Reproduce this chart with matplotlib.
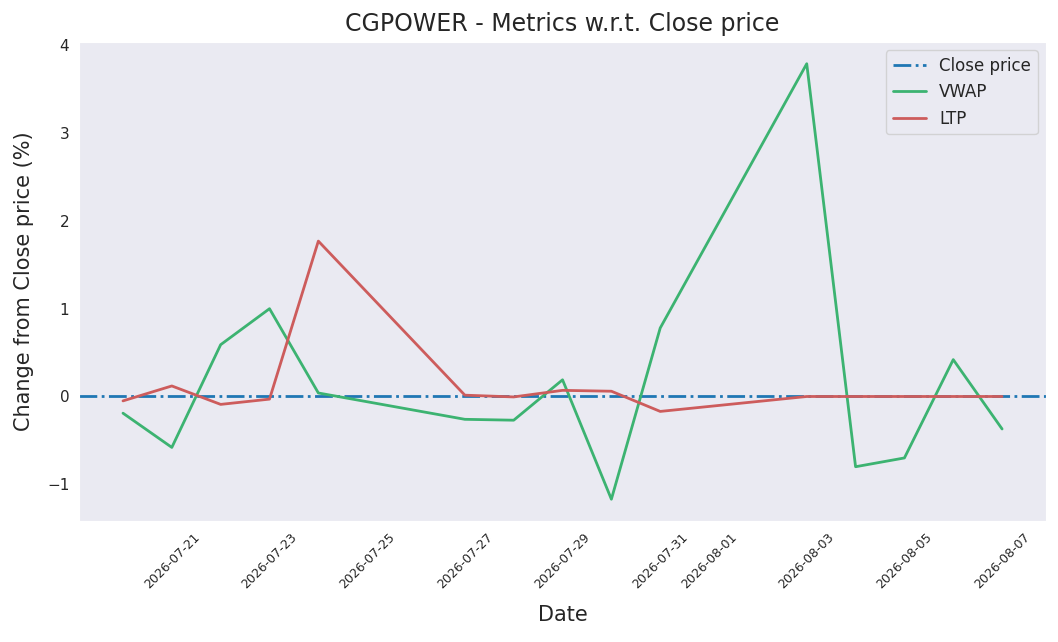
import numpy as np
import pandas as pd
import matplotlib
matplotlib.use("Agg")
import matplotlib.pyplot as plt
import seaborn as sns

dates = pd.to_datetime([
    "2026-07-20", "2026-07-21", "2026-07-22", "2026-07-23", "2026-07-24",
    "2026-07-27", "2026-07-28", "2026-07-29", "2026-07-30", "2026-07-31",
    "2026-08-03", "2026-08-04", "2026-08-05", "2026-08-06", "2026-08-07",
])
vwap = [-0.19, -0.58, 0.59, 1.00, 0.04,
        -0.26, -0.27, 0.19, -1.17, 0.78,
        3.79, -0.80, -0.70, 0.42, -0.37]
ltp = [-0.05, 0.12, -0.09, -0.03, 1.77,
       0.015, -0.005, 0.07, 0.06, -0.17,
       0.0, 0.0, 0.0, 0.0, 0.0]

sns.set_style("dark")
plt.rcParams["font.family"] = ["DejaVu Sans"]

fig, ax = plt.subplots(figsize=(10.58, 6.42), dpi=100)
fig.subplots_adjust(left=0.0747, right=0.9887, top=0.9346, bottom=0.1885)

ax.axhline(0, color="#1f77b4", linestyle="-.", linewidth=2, label="Close price")
ax.plot(dates, vwap, color="mediumseagreen", linewidth=2, label="VWAP")
ax.plot(dates, ltp, color="indianred", linewidth=2, label="LTP")

ax.set_title("CGPOWER - Metrics w.r.t. Close price", fontsize=17, pad=8)
ax.set_xlabel("Date", fontsize=15, labelpad=10)
ax.set_ylabel("Change from Close price (%)", fontsize=15, labelpad=9)
ax.tick_params(axis="x", labelrotation=45, labelsize=9)
ax.tick_params(axis="y", labelsize=11)
ax.legend(loc="upper right", fontsize=12)

fig.savefig("out.png", dpi=100)
